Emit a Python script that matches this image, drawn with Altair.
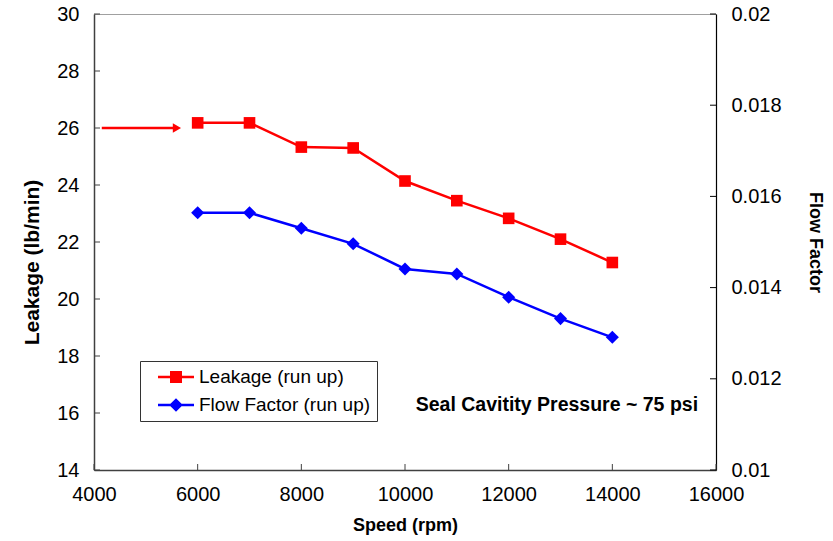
import altair as alt
import pandas as pd

# ---------------- data ----------------
speed = [6000, 7000, 8000, 9000, 10000, 11000, 12000, 13000, 14000]
leakage = [26.18, 26.18, 25.33, 25.30, 24.14, 23.45, 22.83, 22.10, 21.28]
flow_factor = [0.01564, 0.01564, 0.01530, 0.01496, 0.01441, 0.01430, 0.01379, 0.01332, 0.01291]
series_names = ["Leakage (run up)", "Flow Factor (run up)"]
series_colors = ["#ff0000", "#0000ff"]

x_ticks = [4000, 6000, 8000, 10000, 12000, 14000, 16000]
left_ticks = [14, 16, 18, 20, 22, 24, 26, 28, 30]
right_ticks = [0.01, 0.012, 0.014, 0.016, 0.018, 0.02]

arrow_x = [4150, 5550]
arrow_y = [26, 26]
arrow_head_x = [5600]
arrow_head_y = [26]

note_text = ["Seal Cavitity Pressure ~ 75 psi"]
note_x = [12930]
note_y = [16.28]

# ---------------- layout ----------------
W, H = 622, 456
FONT = "Liberation Sans"
TICK = 6

leak_df = pd.DataFrame({"speed": speed, "val": leakage})
flow_df = pd.DataFrame({"speed": speed, "val": flow_factor})
arrow_df = pd.DataFrame({"speed": arrow_x, "val": arrow_y})
head_df = pd.DataFrame({"speed": arrow_head_x, "val": arrow_head_y})
note_df = pd.DataFrame({"speed": note_x, "val": note_y, "t": note_text})
xt_df = pd.DataFrame({"v": x_ticks})
lt_df = pd.DataFrame({"v": left_ticks})
rt_df = pd.DataFrame({"v": right_ticks})
legend_df = pd.DataFrame({"series": series_names})


def xs():
    return alt.Scale(domain=[4000, 16000], nice=False, zero=False)


def yl():
    return alt.Scale(domain=[14, 30], nice=False, zero=False)


def yr():
    return alt.Scale(domain=[0.01, 0.02], nice=False, zero=False)


x_axis = alt.Axis(values=x_ticks, format="d", ticks=False, grid=False, orient="bottom",
                  labelPadding=14, labelFlush=False, labelOverlap=False,
                  title="Speed (rpm)", titlePadding=12,
                  domainColor="#404040", domainWidth=1.5)
yl_axis = alt.Axis(values=left_ticks, ticks=False, grid=False, labelPadding=15,
                   labelFlush=False, labelOverlap=False,
                   title="Leakage (lb/min)", titlePadding=14, titleFontSize=21, titleY=248,
                   domainColor="#404040", domainWidth=1.5, orient="left")
yr_axis = alt.Axis(values=right_ticks, format="~g", ticks=False, grid=False,
                   labelPadding=15, labelFlush=False, labelOverlap=False,
                   title="Flow Factor", titlePadding=24,
                   domainColor="#000000", domainWidth=1.2, orient="right")


def X():
    return alt.X("speed:Q", scale=xs(), axis=None)


leak_line = alt.Chart(leak_df).mark_line(color="#ff0000", strokeWidth=2.5).encode(
    x=X(), y=alt.Y("val:Q", scale=yl(), axis=yl_axis))
leak_pts = alt.Chart(leak_df).mark_point(shape="square", filled=True, size=135,
                                         color="#ff0000", opacity=1).encode(
    x=X(), y=alt.Y("val:Q", scale=yl(), axis=None))
arrow_line = alt.Chart(arrow_df).mark_line(color="#ff0000", strokeWidth=2.5).encode(
    x=X(), y=alt.Y("val:Q", scale=yl(), axis=None))
arrow_head = alt.Chart(head_df).mark_point(shape="triangle-right", filled=True, size=90,
                                           color="#ff0000", opacity=1).encode(
    x=X(), y=alt.Y("val:Q", scale=yl(), axis=None))
left_tick_rules = alt.Chart(lt_df).mark_rule(color="#404040", strokeWidth=1).encode(
    y=alt.Y("v:Q", scale=yl(), axis=None), x=alt.value(0), x2=alt.value(TICK))
bottom_tick_rules = alt.Chart(xt_df).mark_rule(color="#404040", strokeWidth=1).encode(
    x=alt.X("v:Q", scale=xs(), axis=x_axis), y=alt.value(H - TICK), y2=alt.value(H))
note = alt.Chart(note_df).mark_text(font=FONT, fontSize=19.5, fontWeight="bold",
                                    color="#000000", align="center", baseline="middle").encode(
    x=X(), y=alt.Y("val:Q", scale=yl(), axis=None), text="t:N")

flow_line = alt.Chart(flow_df).mark_line(color="#0000ff", strokeWidth=2.5).encode(
    x=X(), y=alt.Y("val:Q", scale=yr(), axis=yr_axis))
flow_pts = alt.Chart(flow_df).mark_point(shape="diamond", filled=True, size=170,
                                         color="#0000ff", opacity=1).encode(
    x=X(), y=alt.Y("val:Q", scale=yr(), axis=None))
right_tick_rules = alt.Chart(rt_df).mark_rule(color="#000000", strokeWidth=1).encode(
    y=alt.Y("v:Q", scale=yr(), axis=None), x=alt.value(W - TICK), x2=alt.value(W))

# legend symbols: line with marker (units of 10 px)
leak_path = "M0.2,-0.12H3.8V0.12H0.2Z M1.4,-0.6H2.6V0.6H1.4Z"
flow_path = "M0.2,-0.12H3.8V0.12H0.2Z M2,-0.68L2.68,0L2,0.68L1.32,0Z"
legend_cfg = alt.Legend(title=None, orient="none", legendX=46, legendY=347,
                        labelFont=FONT, labelFontSize=19, labelColor="#000000",
                        labelLimit=400,
                        strokeColor="#333333", fillColor="#ffffff", padding=6,
                        rowPadding=8, symbolSize=400, symbolStrokeWidth=0,
                        symbolOpacity=1, labelOffset=33, cornerRadius=0)
legend_layer = alt.Chart(legend_df).mark_point(filled=True, opacity=0).encode(
    color=alt.Color("series:N", scale=alt.Scale(domain=series_names, range=series_colors),
                    legend=legend_cfg),
    shape=alt.Shape("series:N", scale=alt.Scale(domain=series_names, range=[leak_path, flow_path]),
                    legend=legend_cfg),
)

chart = alt.layer(
    bottom_tick_rules, leak_line, flow_line, arrow_line, arrow_head, leak_pts, flow_pts,
    left_tick_rules, right_tick_rules, note, legend_layer
).resolve_scale(x="independent", y="independent").properties(
    width=W, height=H,
    autosize=alt.AutoSizeParams(type="none"),
    padding={"left": 94, "top": 14, "right": 117, "bottom": 71},
    background="#ffffff",
).configure_view(stroke="#a0a0a0", strokeWidth=1).configure_axis(
    labelFont=FONT, labelFontSize=20, labelColor="#000000",
    titleFont=FONT, titleFontSize=18, titleFontWeight="bold", titleColor="#000000",
)

chart.save("out.html", embed_options={"renderer": "svg", "actions": False})
